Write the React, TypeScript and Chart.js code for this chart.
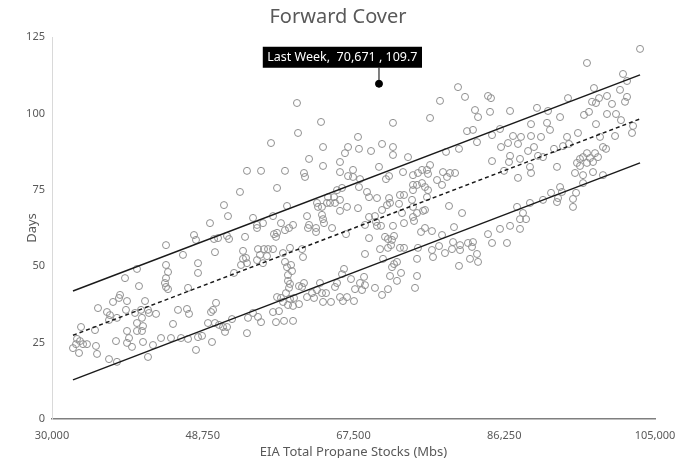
import React, { useEffect, useRef } from "react";
import { Chart, registerables } from "chart.js";

Chart.register(...registerables);

// EIA total propane stocks (Mbs) for each observation
const stocks: number[] = [
  32610, 32990, 33360, 33480, 33860, 34350, 33110, 33610, 35350, 35470,
  35600, 35720, 36840, 37210, 37090, 38080, 37590, 38460, 38330, 39330,
  39200, 39080, 37960, 37090, 38080, 39330, 39580, 39950, 39330, 40320,
  40570, 40570, 40570, 40820, 41070, 41940, 42060, 41320, 41190, 41190,
  41570, 41320, 41940, 42560, 42940, 43560, 44800, 44180, 44180, 44430,
  44180, 44050, 44180, 44430, 45050, 45670, 46050, 46290, 46790, 47040,
  46920, 46920, 47660, 47910, 47910, 48160, 48160, 48160, 48660, 49400,
  49650, 49780, 50030, 49900, 50150, 50650, 51770, 52020, 50270, 50400,
  50270, 50770, 51270, 51770, 51520, 52390, 51390, 51890, 53380, 52640,
  53510, 53760, 53760, 54130, 54010, 54250, 54250, 54380, 54250, 55000,
  55000, 55500, 56240, 55500, 55620, 56370, 56870, 57490, 55870, 55500,
  56740, 56240, 55620, 56000, 56000, 57240, 57490, 57610, 57990, 57860,
  57490, 58230, 57860, 57990, 57990, 58480, 58480, 58730, 58730, 58860,
  58980, 59230, 58980, 59480, 59980, 58980, 59230, 59100, 59350, 59350,
  59600, 59480, 59600, 59730, 59850, 59600, 60100, 59350, 59980, 59980,
  60720, 60470, 60600, 60720, 61100, 61220, 61340, 61470, 61340, 61100,
  61720, 61720, 61970, 61970, 61840, 62840, 62840, 62340, 62590, 62960,
  63580, 64080, 62960, 63090, 63580, 63330, 63460, 63580, 63710, 63830,
  63710, 63710, 63710, 64330, 65080, 64200, 64580, 65200, 64700, 64830,
  65200, 65450, 65450, 66070, 65820, 65820, 66190, 66690, 67560, 65820,
  65820, 65820, 66070, 66320, 66440, 66820, 66570, 66690, 66820, 67190,
  67440, 67440, 67690, 68060, 68060, 68180, 68180, 68310, 68310, 68930,
  68560, 68810, 68930, 68930, 69180, 69430, 69430, 69430, 69680, 70170,
  70300, 70420, 70920, 70420, 70170, 70670, 70800, 71050, 71050, 71050,
  71170, 71420, 71790, 72290, 72540, 72170, 71540, 71920, 71670, 72040,
  71920, 71790, 71790, 72040, 72290, 72540, 72910, 72410, 72410, 72410,
  72410, 72910, 73160, 73280, 73780, 73280, 73780, 73410, 73530, 73660,
  73780, 74280, 74900, 75520, 76020, 76640, 76770, 74900, 75400, 76020,
  76390, 76770, 74900, 77020, 74780, 74900, 74900, 75400, 75030, 75150,
  75400, 75400, 75520, 75900, 76150, 76390, 76390, 76640, 77020, 77260,
  77260, 77390, 77890, 78140, 78260, 78510, 78510, 78630, 79010, 79130,
  79500, 80130, 78880, 79380, 79750, 79880, 80000, 80500, 80620, 80620,
  80750, 80750, 81000, 81370, 81620, 81740, 81990, 82360, 82360, 82240,
  82610, 82860, 82860, 82990, 82990, 84230, 84230, 84480, 84600, 84730,
  84730, 84730, 85720, 85720, 85850, 86220, 86590, 86720, 86840, 86970,
  86970, 86970, 87340, 87840, 87960, 87960, 88210, 88210, 88210, 88330,
  88580, 88960, 89210, 89450, 89450, 89580, 89580, 89580, 89950, 90320,
  90450, 90820, 91070, 91070, 91570, 91690, 91940, 92070, 92440, 92810,
  92810, 92940, 93190, 93190, 93430, 93560, 94060, 94180, 94300, 94800,
  94800, 95050, 95180, 95300, 95420, 95670, 95670, 96050, 96050, 96050,
  96170, 96540, 96540, 96540, 96790, 96920, 97170, 97290, 97290, 97410,
  97540, 97660, 97660, 97910, 98040, 98160, 98530, 98530, 98910, 99030,
  99030, 99650, 100030, 100150, 100650, 100770, 101020, 101270, 101520, 101520,
  102140, 102270, 103140,
];

// Forward cover (days) for each observation, same order as stocks
const days: number[] = [
  23.2, 24.5, 21.6, 25.5, 24.5, 24.5, 26.2, 30.1, 29.1, 23.9,
  21.3, 36.3, 35.0, 34.0, 32.4, 33.1, 38.3, 40.6, 39.6, 38.6,
  35.7, 46.1, 25.5, 19.6, 18.7, 28.8, 26.5, 23.6, 24.9, 34.7,
  49.1, 31.4, 28.8, 43.5, 35.7, 35.7, 34.7, 30.4, 28.8, 33.1,
  38.6, 25.2, 20.3, 24.2, 34.4, 26.5, 26.5, 56.9, 50.4, 48.1,
  46.1, 44.5, 43.2, 42.5, 31.1, 35.7, 26.5, 53.7, 36.0, 34.4,
  42.9, 26.2, 60.2, 58.6, 22.6, 51.0, 47.8, 26.8, 27.2, 31.4,
  64.1, 35.0, 35.7, 25.2, 58.9, 59.2, 59.9, 58.9, 54.6, 38.0,
  31.4, 30.8, 30.1, 30.1, 28.5, 32.7, 70.0, 66.4, 74.3, 47.8,
  50.4, 55.0, 52.4, 52.7, 59.6, 81.2, 28.1, 33.1, 51.0, 34.7,
  65.8, 63.5, 64.1, 62.5, 55.6, 55.6, 55.6, 55.6, 53.7, 52.0,
  53.3, 51.0, 33.4, 31.7, 81.2, 90.3, 66.4, 60.5, 60.9, 59.6,
  35.0, 35.3, 31.7, 75.6, 39.9, 39.6, 64.1, 54.3, 38.3, 32.1,
  51.4, 49.7, 61.8, 62.5, 63.5, 81.2, 69.7, 41.2, 47.1, 45.2,
  44.2, 42.9, 56.0, 50.4, 48.4, 39.3, 39.6, 37.3, 37.0, 32.1,
  37.6, 103.4, 93.6, 43.5, 55.6, 53.0, 80.5, 79.2, 44.5, 43.2,
  39.9, 66.4, 85.1, 63.5, 62.5, 62.5, 61.2, 41.2, 39.6, 42.2,
  41.2, 41.2, 70.7, 69.4, 69.4, 44.5, 97.2, 66.8, 65.4, 64.1,
  89.0, 82.8, 38.3, 72.6, 72.6, 70.7, 70.7, 70.7, 38.3, 62.5,
  43.2, 44.5, 74.9, 75.6, 71.7, 39.9, 38.6, 39.9, 38.6, 84.1,
  80.8, 68.1, 47.4, 49.1, 87.0, 89.0, 60.5, 69.4, 79.5, 45.8,
  81.5, 79.2, 42.5, 92.3, 69.0, 88.4, 75.9, 78.5, 44.5, 43.8,
  42.2, 46.5, 54.0, 63.5, 74.3, 72.6, 66.1, 59.2, 87.7, 66.4,
  64.5, 63.2, 63.2, 72.3, 42.9, 82.5, 55.6, 90.0, 68.4, 40.6,
  52.4, 59.6, 58.9, 58.6, 59.9, 56.9, 78.5, 79.5, 70.0, 70.7,
  72.3, 42.5, 56.0, 46.8, 49.7, 50.7, 51.4, 96.9, 89.0, 86.4,
  63.2, 45.2, 70.4, 73.3, 73.3, 56.0, 56.0, 47.8, 67.4, 80.8,
  64.1, 85.7, 79.8, 80.5, 81.5, 81.5, 80.2, 76.6, 76.6, 77.2,
  75.9, 74.9, 74.9, 83.1, 71.7, 69.4, 66.1, 67.4, 64.8, 42.9,
  46.8, 52.4, 56.0, 61.2, 68.1, 68.4, 62.5, 72.6, 98.5, 61.5,
  55.3, 53.0, 78.2, 56.6, 104.1, 76.6, 60.2, 80.8, 87.4, 79.2,
  80.5, 80.5, 54.3, 69.7, 55.6, 57.9, 62.8, 108.6, 88.4, 50.1,
  55.3, 56.9, 67.4, 105.4, 94.2, 57.6, 52.4, 94.6, 57.9, 56.3,
  101.1, 90.6, 54.0, 98.8, 51.4, 105.7, 60.5, 100.5, 105.0, 92.9,
  84.4, 57.6, 94.9, 62.2, 89.0, 81.2, 57.6, 90.3, 84.1, 86.1,
  100.8, 63.2, 92.6, 69.4, 90.0, 78.9, 85.1, 65.4, 62.2, 92.3,
  67.4, 65.4, 87.7, 70.7, 82.5, 96.5, 92.6, 80.5, 89.0, 101.8,
  86.1, 92.3, 85.7, 71.7, 96.9, 100.8, 94.6, 74.0, 88.4, 82.5,
  71.0, 72.3, 98.8, 75.9, 74.3, 89.3, 92.3, 105.0, 90.0, 72.0,
  69.4, 80.5, 74.0, 83.8, 93.6, 85.1, 82.8, 85.7, 79.8, 77.2,
  99.5, 87.0, 83.8, 116.5, 100.5, 85.4, 103.8, 84.1, 80.8, 108.3,
  87.0, 103.4, 96.5, 85.7, 105.0, 92.3, 89.0, 79.8, 88.4, 105.7,
  99.8, 103.1, 92.6, 99.8, 107.7, 97.8, 112.9, 103.8, 110.6, 105.4,
  93.6, 95.9, 121.1,
];

// Fitted trend and band lines (end points)
const fitStocks: number[] = [32610, 103140];
const upperBand: number[] = [41.9, 112.6];
const trendLine: number[] = [27.4, 98.2];
const lowerBand: number[] = [12.8, 83.8];

// Highlighted latest observation
const lastWeekLabel = "Last Week";
const lastWeekStocks = 70671;
const lastWeekDays = 109.7;

// Axis ticks
const xTicks: number[] = [30000, 48750, 67500, 86250, 105000];
const yTicks: number[] = [0, 25, 50, 75, 100, 125];

const FONT = "'Noto Sans', 'DejaVu Sans', sans-serif";
const GREY_TEXT = "#595959";

const calloutPlugin = {
  id: "lastWeekCallout",
  afterDatasetsDraw(chart: any) {
    const meta = chart.getDatasetMeta(0);
    if (!meta || !meta.data || !meta.data[0]) return;
    const pt = meta.data[0];
    const ctx = chart.ctx;
    const text = `${lastWeekLabel},  ${lastWeekStocks.toLocaleString("en-US")} , ${lastWeekDays.toFixed(1)}`;
    ctx.save();
    ctx.font = `12.5px ${FONT}`;
    const w = ctx.measureText(text).width + 9;
    const h = 21;
    const boxRight = pt.x + 43;
    const boxLeft = boxRight - w;
    const boxBottom = pt.y - 16;
    const boxTop = boxBottom - h;
    ctx.strokeStyle = "#000";
    ctx.lineWidth = 1;
    ctx.beginPath();
    ctx.moveTo(pt.x, pt.y);
    ctx.lineTo(pt.x, boxBottom);
    ctx.stroke();
    ctx.fillStyle = "#000";
    ctx.fillRect(boxLeft, boxTop, w, h);
    ctx.fillStyle = "#fff";
    ctx.textAlign = "center";
    ctx.textBaseline = "middle";
    ctx.fillText(text, boxLeft + w / 2, boxTop + h / 2 + 0.5);
    ctx.restore();
  },
};

export default function App() {
  const ref = useRef<HTMLCanvasElement | null>(null);

  useEffect(() => {
    document.body.style.margin = "0";
    const canvas = ref.current;
    if (!canvas) return;
    const points = stocks.map((s, i) => ({ x: s, y: days[i] }));
    const line = (vals: number[]) => fitStocks.map((s, i) => ({ x: s, y: vals[i] }));

    const chart = new Chart(canvas, {
      type: "scatter",
      data: {
        datasets: [
          {
            label: lastWeekLabel,
            data: [{ x: lastWeekStocks, y: lastWeekDays }],
            pointRadius: 3.5,
            pointBackgroundColor: "#000",
            pointBorderColor: "#000",
            pointBorderWidth: 1,
          },
          {
            label: "Upper",
            data: line(upperBand),
            showLine: true,
            borderColor: "#1a1a1a",
            borderWidth: 1.5,
            pointRadius: 0,
          },
          {
            label: "Trend",
            data: line(trendLine),
            showLine: true,
            borderColor: "#1a1a1a",
            borderWidth: 1.5,
            borderDash: [4, 3],
            pointRadius: 0,
          },
          {
            label: "Lower",
            data: line(lowerBand),
            showLine: true,
            borderColor: "#1a1a1a",
            borderWidth: 1.5,
            pointRadius: 0,
          },
          {
            label: "Forward Cover",
            data: points,
            pointRadius: 3.5,
            pointBorderWidth: 1,
            pointBorderColor: "#8f8f8f",
            pointBackgroundColor: "rgba(255,255,255,0)",
          },
        ],
      },
      options: {
        responsive: false,
        animation: false,
        devicePixelRatio: 1,
        layout: { padding: { left: 0, right: 0, top: 0, bottom: 0 } },
        plugins: {
          legend: { display: false },
          tooltip: { enabled: false },
          title: {
            display: true,
            text: "Forward Cover",
            color: GREY_TEXT,
            font: { family: FONT, size: 20, weight: "normal" },
            padding: { top: 5, bottom: 8 },
          },
        },
        scales: {
          x: {
            type: "linear",
            min: xTicks[0],
            max: xTicks[xTicks.length - 1],
            afterBuildTicks: (axis: any) => {
              axis.ticks = xTicks.map((v) => ({ value: v }));
            },
            afterFit: (axis: any) => {
              axis.height = 39;
              axis.paddingRight = 21;
            },
            grid: { display: false, drawTicks: false },
            border: { display: true, color: "#7f7f7f", width: 1.5 },
            ticks: {
              color: GREY_TEXT,
              font: { family: FONT, size: 11 },
              padding: 10,
              maxRotation: 0,
              callback: (v: any) => Number(v).toLocaleString("en-US"),
            },
            title: {
              display: true,
              text: "EIA Total Propane Stocks (Mbs)",
              color: GREY_TEXT,
              font: { family: FONT, size: 13 },
              padding: { top: 0, bottom: -2 },
            },
          },
          y: {
            type: "linear",
            min: yTicks[0],
            max: yTicks[yTicks.length - 1],
            afterBuildTicks: (axis: any) => {
              axis.ticks = yTicks.map((v) => ({ value: v }));
            },
            afterFit: (axis: any) => {
              axis.width = 52;
            },
            grid: { display: false, drawTicks: false },
            border: { display: true, color: "#d9d9d9", width: 1 },
            ticks: {
              color: GREY_TEXT,
              font: { family: FONT, size: 11 },
              padding: 7,
            },
            title: {
              display: true,
              text: "Days",
              color: GREY_TEXT,
              font: { family: FONT, size: 13 },
              padding: { top: 24, bottom: 0 },
            },
          },
        },
      },
      plugins: [calloutPlugin],
    } as any);

    return () => chart.destroy();
  }, []);

  return (
    <div style={{ width: 676, height: 458 }}>
      <canvas ref={ref} width={676} height={458} style={{ display: "block" }} />
    </div>
  );
}
